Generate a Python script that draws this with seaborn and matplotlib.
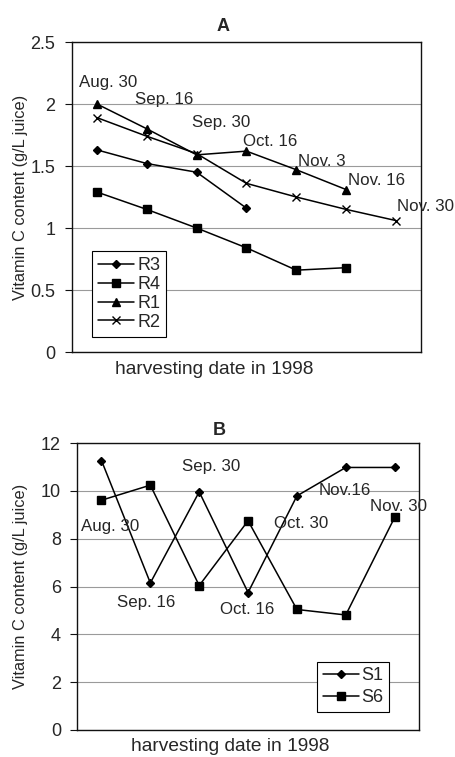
import matplotlib
matplotlib.use("Agg")
import matplotlib.pyplot as plt
import seaborn as sns
import pandas as pd
import numpy as np

# ---- data ----
dates_a = ["Aug. 30", "Sep. 16", "Sep. 30", "Oct. 16", "Nov. 3", "Nov. 16", "Nov. 30"]
r3 = [1.63, 1.52, 1.45, 1.16]
r4 = [1.29, 1.15, 1.00, 0.84, 0.66, 0.68]
r1 = [2.00, 1.80, 1.59, 1.62, 1.47, 1.31]
r2 = [1.89, 1.74, 1.60, 1.36, 1.25, 1.15, 1.06]

dates_b = ["Aug. 30", "Sep. 16", "Sep. 30", "Oct. 16", "Oct. 30", "Nov.16", "Nov. 30"]
s1 = [11.27, 6.15, 9.96, 5.75, 9.79, 10.98, 10.98]
s6 = [9.61, 10.24, 6.04, 8.75, 5.04, 4.81, 8.89]

yticks_a = [0, 0.5, 1, 1.5, 2, 2.5]
ytick_labels_a = ["0", "0.5", "1", "1.5", "2", "2.5"]
yticks_b = [0, 2, 4, 6, 8, 10, 12]

# label positions (layout)
lab_pos_a = [(0.22, 2.177), (1.34, 2.034), (2.49, 1.85), (3.48, 1.697),
             (4.51, 1.536), (5.60, 1.38), (6.59, 1.172)]
lab_pos_b = [(0.17, 8.51), (0.92, 5.33), (2.25, 11.0), (2.98, 5.02),
             (4.09, 8.65), (4.98, 10.0), (6.07, 9.35)]

sns.set_style("white")
plt.rcParams['font.family'] = ['Liberation Sans', 'DejaVu Sans']

fig = plt.figure(figsize=(4.56, 7.57), dpi=100)
axA = fig.add_axes([0.158, 0.535, 0.765, 0.4095])
axB = fig.add_axes([0.169, 0.0357, 0.75, 0.379])

def draw_series(ax, name, vals, marker):
    df = pd.DataFrame({"x": np.arange(len(vals)), "y": vals})
    ms = 4.5 if marker == "D" else (6 if marker == "x" else 5.5)
    sns.lineplot(data=df, x="x", y="y", ax=ax, color="black", linewidth=1.1,
                 marker=marker, markersize=ms, markeredgecolor="black",
                 markerfacecolor="black", markeredgewidth=1.0, label=name)

def style_axes(ax, ylim, yticks, ylabels, ylab_x, xlab_xy, pad):
    ax.set_xlim(-0.5, 6.5)
    ax.set_ylim(*ylim)
    ax.set_yticks(yticks)
    ax.set_yticklabels(ylabels, fontsize=13)
    ax.set_xticks([])
    ax.yaxis.grid(True, color="#9a9a9a", linewidth=0.8)
    ax.set_axisbelow(True)
    for s in ax.spines.values():
        s.set_visible(True)
        s.set_color("#111111")
        s.set_linewidth(1.0)
    ax.tick_params(axis="y", which="major", left=True, length=5, width=0.8,
                   color="#111111", pad=pad, direction="out")
    ax.set_ylabel("Vitamin C content (g/L juice)", fontsize=11.8)
    ax.yaxis.set_label_coords(ylab_x, 0.5)
    ax.yaxis.label.set_verticalalignment("center")
    ax.set_xlabel("harvesting date in 1998", fontsize=13.8)
    ax.xaxis.set_label_coords(*xlab_xy)
    ax.xaxis.label.set_verticalalignment("center")

# ---- panel A ----
for name, vals, mk in [("R3", r3, "D"), ("R4", r4, "s"), ("R1", r1, "^"), ("R2", r2, "x")]:
    draw_series(axA, name, vals, mk)
style_axes(axA, (0, 2.5), yticks_a, ytick_labels_a, -0.148, (0.407, -0.058), 7)
axA.set_title("A", fontsize=13, fontweight="bold", x=0.433, y=1.0, pad=8)
for txt, (x, y) in zip(dates_a, lab_pos_a):
    axA.text(x, y, txt, fontsize=12.2, ha="center", va="center", clip_on=False)
legA = axA.legend(loc="lower left", bbox_to_anchor=(0.057, 0.048), frameon=True,
                  fancybox=False, edgecolor="black", fontsize=13,
                  handlelength=2.0, handletextpad=0.15, labelspacing=0.1,
                  borderpad=0.35, borderaxespad=0, framealpha=1)
legA.get_frame().set_linewidth(0.8)

# ---- panel B ----
for name, vals, mk in [("S1", s1, "D"), ("S6", s6, "s")]:
    draw_series(axB, name, vals, mk)
style_axes(axB, (0, 12), yticks_b, [str(t) for t in yticks_b], -0.165, (0.447, -0.057), 6.5)
axB.set_title("B", fontsize=13, fontweight="bold", x=0.415, y=1.0, pad=6)
for txt, (x, y) in zip(dates_b, lab_pos_b):
    axB.text(x, y, txt, fontsize=12.2, ha="center", va="center", clip_on=False)
legB = axB.legend(loc="lower right", bbox_to_anchor=(0.912, 0.063), frameon=True,
                  fancybox=False, edgecolor="black", fontsize=13,
                  handlelength=2.0, handletextpad=0.15, labelspacing=0.3,
                  borderpad=0.3, borderaxespad=0, framealpha=1)
legB.get_frame().set_linewidth(0.8)

fig.savefig("out.png", dpi=100)
